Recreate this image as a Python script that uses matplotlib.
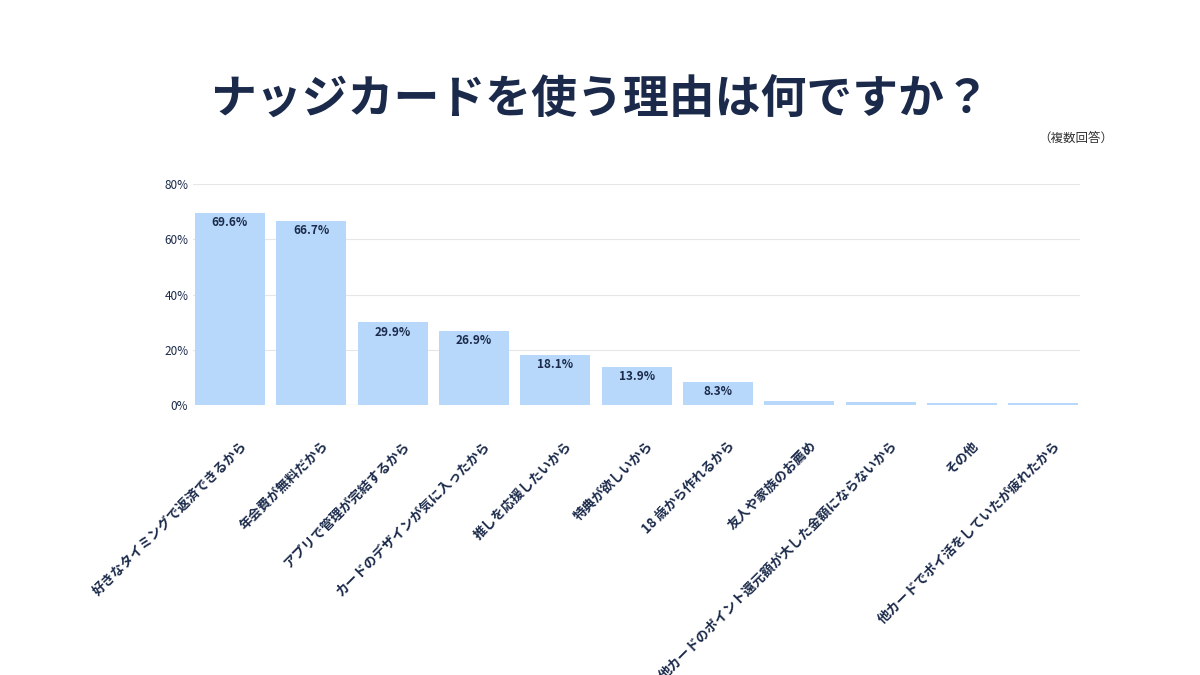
import matplotlib
matplotlib.use("Agg")
import matplotlib.pyplot as plt

plt.rcParams["font.family"] = "Noto Sans CJK JP"

categories = ["好きなタイミングで返済できるから", "年会費が無料だから", "アプリで管理が完結するから",
              "カードのデザインが気に入ったから", "推しを応援したいから", "特典が欲しいから",
              "18 歳から作れるから", "友人や家族のお薦め", "他カードのポイント還元額が大した金額にならないから",
              "その他", "他カードでポイ活をしていたが疲れたから"]
values = [69.6, 66.7, 29.9, 26.9, 18.1, 13.9, 8.3, 1.6, 1.1, 0.9, 0.8]
yticks = [0, 20, 40, 60, 80]

navy = "#1b2a4a"
fig = plt.figure(figsize=(12, 6.75), dpi=100)
ax = fig.add_axes([0.161, 0.4, 0.739, 0.3274])
x = list(range(len(categories)))
ax.bar(x, values, width=0.86, color="#b7d8fa", zorder=2)
for i, v in enumerate(values):
    if v > 5:
        ax.text(i, v - 1.2, f"{v}%", ha="center", va="top", fontsize=8.5,
                fontweight="bold", color=navy, zorder=3)
ax.set_xlim(-0.45, len(categories) - 0.55)
ax.set_ylim(0, 80)
ax.set_yticks(yticks)
ax.set_yticklabels([f"{t}%" for t in yticks], fontsize=8.5, color=navy)
ax.yaxis.grid(True, color="#e6e6e6", lw=0.8, zorder=0)
for s in ax.spines.values():
    s.set_visible(False)
ax.tick_params(length=0)
ax.set_xticks([i + 0.12 for i in x])
ax.set_xticklabels(categories, rotation=45, ha="right", rotation_mode="anchor",
                   fontsize=9.5, fontweight="bold", color=navy)
ax.tick_params(axis="x", pad=24)
fig.text(0.5, 0.852, "ナッジカードを使う理由は何ですか？", ha="center", va="center",
         fontsize=33, fontweight="bold", color=navy)
fig.text(0.928, 0.795, "（複数回答）", ha="right", va="center", fontsize=9, color="#333333")
fig.savefig("out.png", dpi=100)
